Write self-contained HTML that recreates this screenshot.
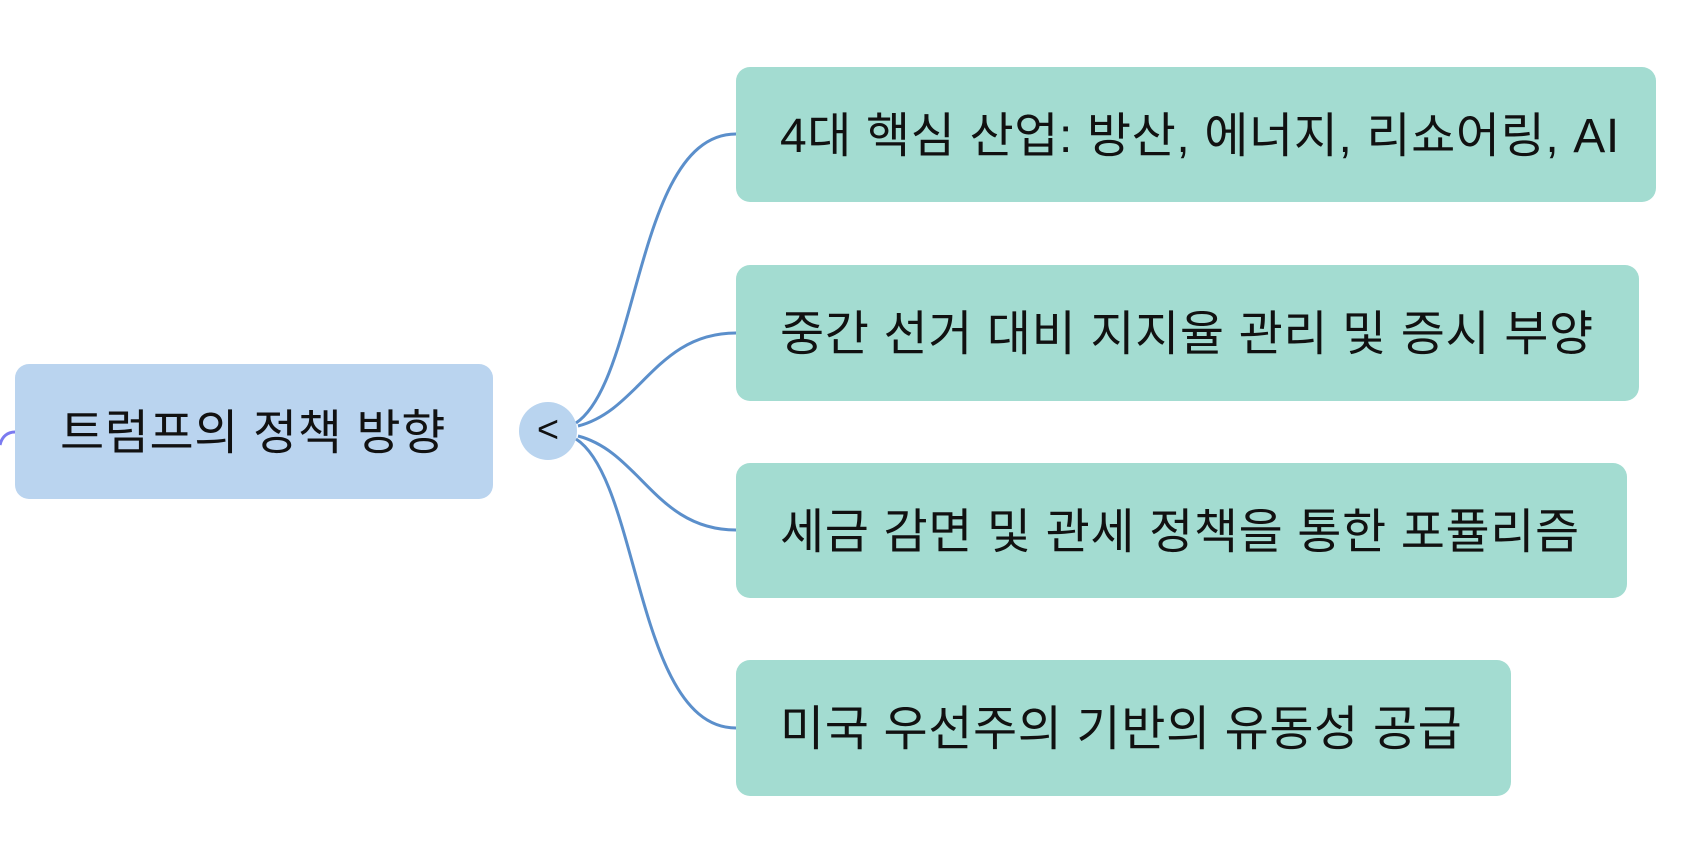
<!DOCTYPE html>
<html><head><meta charset="utf-8"><style>
body{margin:0;width:1694px;height:856px;background:#fff;position:relative;overflow:hidden;font-family:"Liberation Sans","Noto Sans CJK KR",sans-serif;}
.b{position:absolute;border-radius:14px;display:flex;align-items:center;font-size:48px;color:#111;box-sizing:border-box;white-space:nowrap;letter-spacing:0.6px;padding-bottom:8px}
.g{background:#a3dcd1;padding-left:44px}
</style></head><body>
<svg width="1694" height="856" style="position:absolute;left:0;top:0">
<g fill="none" stroke="#5b8fcb" stroke-width="3">
<path d="M576 423 C640 380 636 134 736 134"/>
<path d="M578 426 C640 410 656 333 736 333"/>
<path d="M578 436 C640 452 656 530 736 530"/>
<path d="M576 439 C640 480 636 728 736 728"/>
</g>
<path d="M0 445 C2 436 8 432 15 432" fill="none" stroke="#7b7bf0" stroke-width="3"/>
<circle cx="548" cy="431" r="29" fill="#b9d4ef"/>
<text x="548" y="442" font-size="38" text-anchor="middle" font-family="Liberation Sans" fill="#111">&lt;</text>
</svg>
<div class="b" style="left:15px;top:364px;width:478px;height:135px;background:#bad4ef;padding-left:45px">트럼프의 정책 방향</div>
<div class="b g" style="left:736px;top:67px;width:920px;height:135px">4대 핵심 산업: 방산, 에너지, 리쇼어링, AI</div>
<div class="b g" style="left:736px;top:265px;width:903px;height:136px">중간 선거 대비 지지율 관리 및 증시 부양</div>
<div class="b g" style="left:736px;top:463px;width:891px;height:135px">세금 감면 및 관세 정책을 통한 포퓰리즘</div>
<div class="b g" style="left:736px;top:660px;width:775px;height:136px">미국 우선주의 기반의 유동성 공급</div>
</body></html>
